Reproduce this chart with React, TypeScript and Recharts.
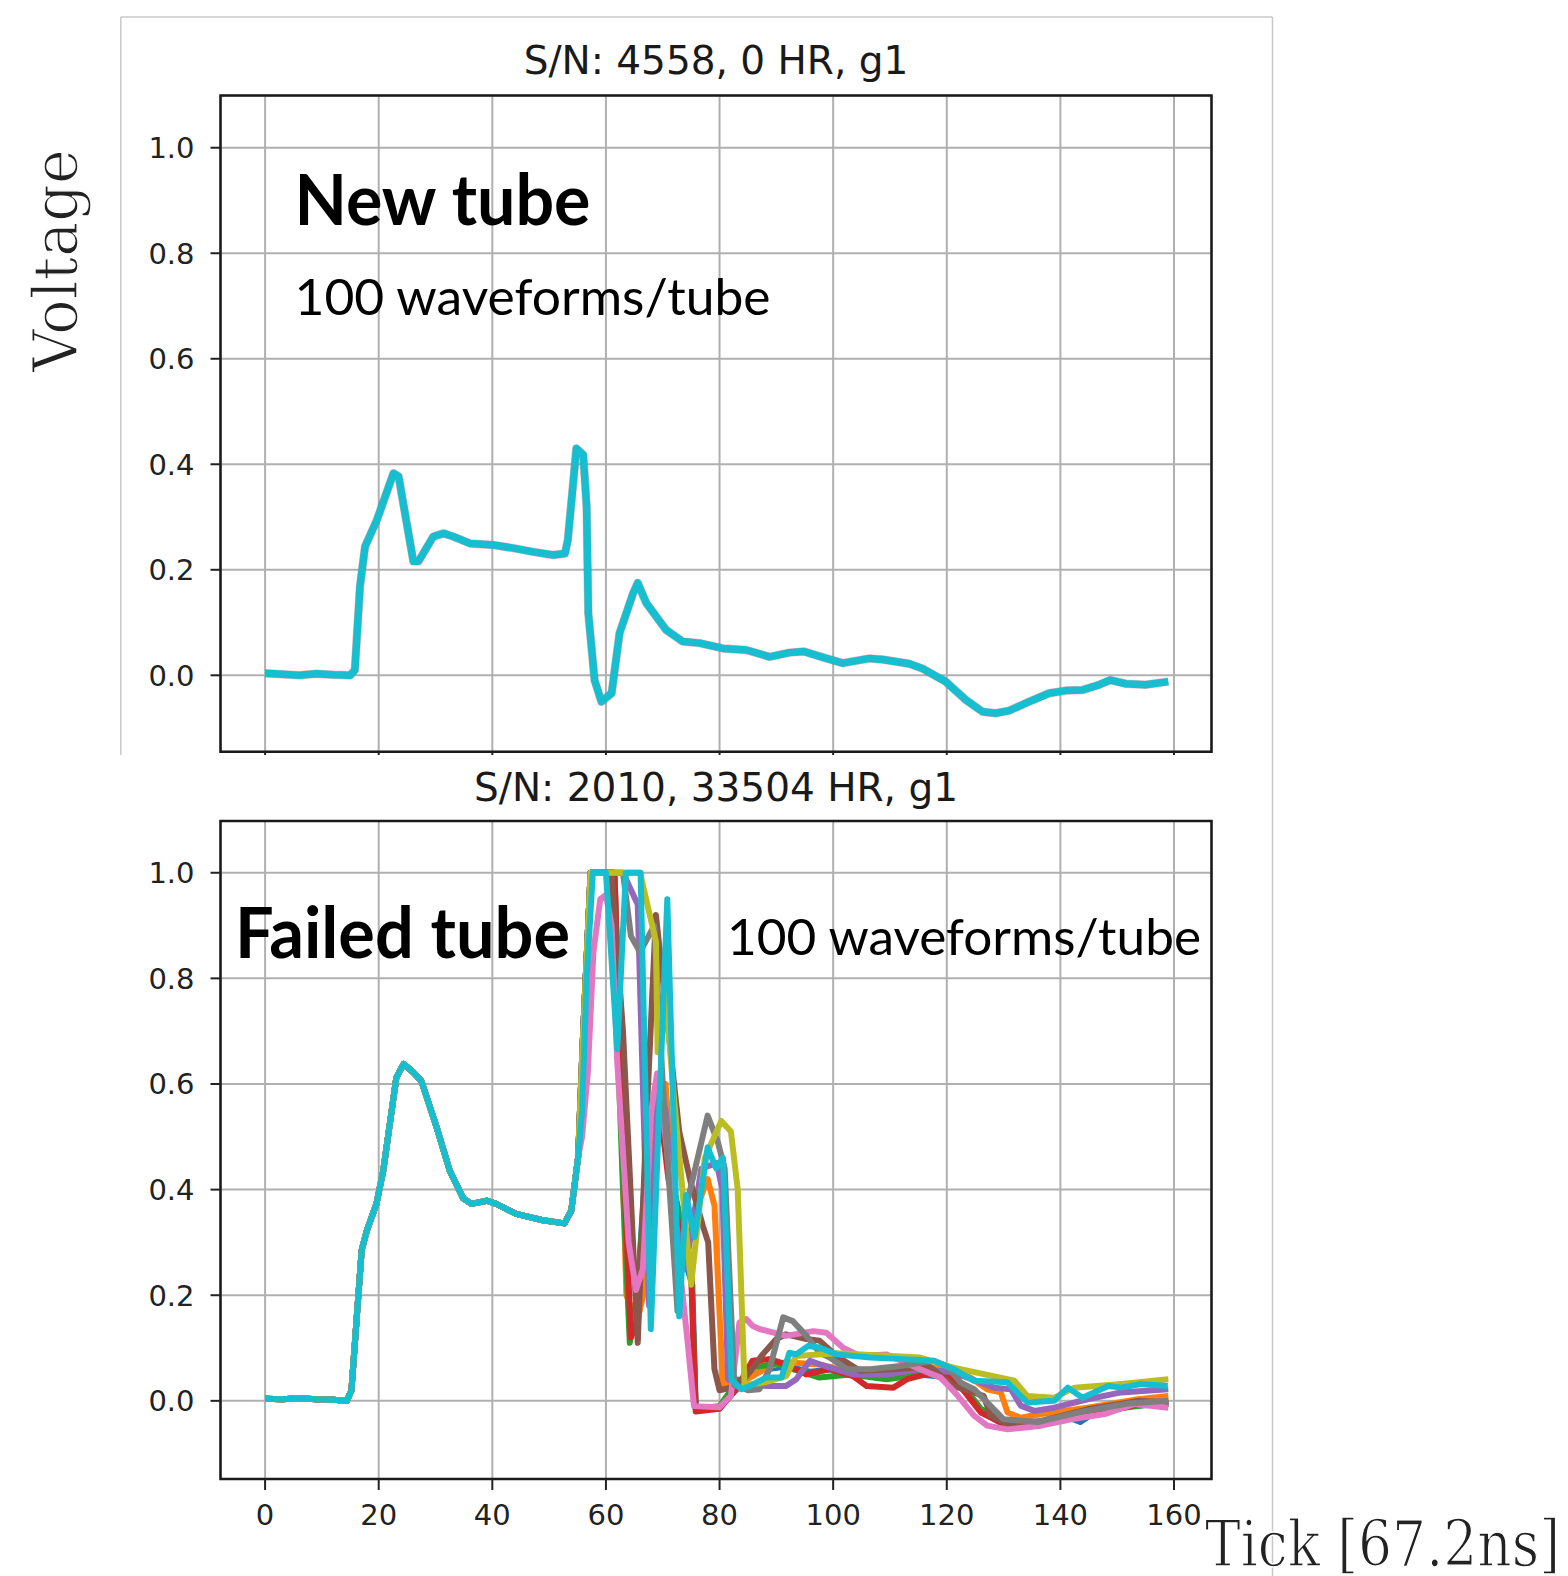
import React from 'react';
import { LineChart, Line, XAxis, YAxis, CartesianGrid, ReferenceArea } from 'recharts';

type Pt = [number, number];

// ---------- axes ----------
const xTicks = [0, 20, 40, 60, 80, 100, 120, 140, 160];
const yTicks = [0, 0.2, 0.4, 0.6, 0.8, 1.0];
const xDomain: [number, number] = [-7.85, 166.6];
const topYDomain: [number, number] = [-0.145, 1.099];
const bottomYDomain: [number, number] = [-0.148, 1.098];

// ---------- top panel: new tube (100 overlapping waveforms) ----------
const newTube: Pt[] = [
  [0, 0.004], [3, 0.002], [6, 0.0], [9, 0.003], [12, 0.001], [15, 0.0], [15.8, 0.01],
  [16.7, 0.168], [17.6, 0.244], [19.7, 0.295], [22.6, 0.383], [23.5, 0.377], [26.1, 0.216],
  [27, 0.216], [29.6, 0.263], [31.4, 0.269], [33.1, 0.263], [36.1, 0.25], [40.2, 0.247],
  [43.7, 0.241], [47.2, 0.234], [50.7, 0.228], [52.8, 0.231], [53.3, 0.257], [54.8, 0.43],
  [56, 0.418], [56.6, 0.32], [56.9, 0.118], [58, -0.009], [59.2, -0.05], [61, -0.034],
  [62.4, 0.08], [64.8, 0.156], [65.6, 0.175], [67.1, 0.137], [70.6, 0.086], [73.5, 0.064],
  [76.5, 0.061], [80.6, 0.051], [84.7, 0.048], [88.8, 0.035], [92.3, 0.043], [94.9, 0.045],
  [98.2, 0.034], [101.7, 0.023], [106.4, 0.032], [108.7, 0.03], [113.4, 0.022], [115.7, 0.013],
  [119.8, -0.012], [123.4, -0.047], [126.3, -0.069], [128.6, -0.072], [131, -0.067],
  [134.5, -0.05], [138, -0.034], [140.9, -0.029], [143.8, -0.028], [146.8, -0.018],
  [148.8, -0.009], [151.5, -0.016], [155, -0.018], [159, -0.012],
];

// ---------- bottom panel: failed tube ----------
const failedCommon: Pt[] = [
  [0, 0.004], [3, 0.003], [6, 0.005], [9, 0.003], [12, 0.002], [14.4, 0.0], [15.2, 0.02],
  [16.1, 0.153], [17, 0.285], [17.9, 0.322], [19.6, 0.373], [20.8, 0.436], [23.1, 0.612],
  [24.4, 0.638], [26.1, 0.622], [27.5, 0.606], [30.2, 0.518], [32.5, 0.436], [34.9, 0.383],
  [36.3, 0.373], [39, 0.379], [40.7, 0.373], [44.2, 0.354], [48.9, 0.342], [52.7, 0.336],
  [53.9, 0.36], [55.1, 0.461],
];

const failedBlue: Pt[] = [
  [56, 0.7], [57.3, 1], [61.5, 1], [63, 0.5], [64.2, 0.13], [65.3, 0.16], [67, 0.45], [69.5, 0.58],
  [71.5, 0.4], [73.5, 0.28], [75.2, 0.22], [75.8, -0.012], [80, -0.012], [82, 0.01], [85, 0.045],
  [88, 0.06], [92, 0.065], [96, 0.055], [100, 0.06], [105, 0.05], [110, 0.045], [115, 0.05],
  [120, 0.045], [123, 0.02], [126, -0.02], [130, -0.045], [136, -0.044], [141, -0.03],
  [143.5, -0.04], [146, -0.022], [152, -0.01], [159, -0.006],
];
const failedOrange: Pt[] = [
  [56, 0.7], [57.3, 1], [61.5, 1], [63.6, 0.2], [65.5, 0.15], [67, 0.22], [69, 0.58], [70.5, 0.6],
  [72.5, 0.3], [74.5, 0.3], [76.5, 0.38], [77.9, 0.42], [79.1, 0.37], [80.6, 0.03], [83, 0.03],
  [85.8, 0.047], [88.8, 0.066], [91.7, 0.073], [97.6, 0.069], [103.5, 0.054], [109.4, 0.06],
  [118.3, 0.063], [124, 0.045], [127.1, 0.022], [129.5, 0.016], [130.7, -0.022], [133, -0.032],
  [136.6, -0.025], [144.8, -0.013], [153.7, 0.003], [159, 0.009],
];
const failedGreen: Pt[] = [
  [56, 0.7], [57.3, 1], [61, 1], [63, 0.4], [64.2, 0.11], [65.5, 0.2], [67.5, 0.5], [69, 0.58],
  [71, 0.45], [73, 0.35], [75, 0.26], [75.8, -0.015], [80, -0.01], [82, 0.02], [83.3, 0.04],
  [84, 0.03], [85.3, 0.063], [90, 0.07], [97.6, 0.044], [103, 0.05], [109.4, 0.041],
  [118.3, 0.054], [122, 0.04], [126, -0.015], [130, -0.04], [137, -0.04], [142, -0.03],
  [150, -0.015], [159, -0.002],
];
const failedRed: Pt[] = [
  [56, 0.7], [57.3, 1], [61.5, 1], [63.5, 0.35], [64.4, 0.12], [65.5, 0.15], [67, 0.42], [69, 0.6],
  [71, 0.42], [73.5, 0.3], [75, 0.24], [75.8, -0.02], [80, -0.015], [82.9, 0.022], [85.8, 0.076],
  [88.8, 0.079], [91.7, 0.069], [95.3, 0.05], [99.4, 0.06], [103.5, 0.047], [105.9, 0.028],
  [110.6, 0.025], [113, 0.041], [117.7, 0.054], [121.2, 0.044], [126, -0.022], [130.1, -0.044],
  [136, -0.041], [141.9, -0.028], [147.8, -0.022], [153.7, -0.006], [159, -0.006],
];
const failedPurple: Pt[] = [
  [56, 0.7], [57.3, 1], [63, 1], [65.6, 0.94], [67.6, 0.18], [69.1, 0.6], [70.5, 0.55], [72, 0.35],
  [74, 0.25], [76.8, 0.44], [79.5, 0.45], [80.5, 0.4], [81.5, 0.04], [85, 0.03], [88.8, 0.028],
  [91.7, 0.028], [93.5, 0.041], [95.9, 0.076], [97.6, 0.069], [103.5, 0.05], [109.4, 0.05],
  [115.3, 0.06], [121.2, 0.054], [128.3, 0.025], [131.3, 0.022], [133, -0.009], [135.4, -0.019],
  [138.9, -0.013], [144.8, 0.003], [150.7, 0.016], [159, 0.022],
];
const failedBrown: Pt[] = [
  [56, 0.7], [57.3, 1], [61, 1], [63, 0.7], [65.6, 0.11], [67, 0.5], [68.8, 0.92], [70, 0.8],
  [72.9, 0.51], [75, 0.41], [77.1, 0.33], [78, 0.3], [79.1, 0.06], [80, 0.02], [82, 0.025],
  [85, 0.05], [87.6, 0.088], [90, 0.117], [91.7, 0.126], [95.3, 0.117], [97.6, 0.114],
  [100.6, 0.085], [104.7, 0.057], [110.6, 0.06], [117, 0.065], [121.2, 0.028], [124.8, 0.016],
  [126.5, 0.009], [127.7, -0.028], [130.7, -0.044], [136.6, -0.038], [144.8, -0.016],
  [153.7, 0.0], [159, -0.003],
];
const failedPink: Pt[] = [
  [55.8, 0.5], [56.8, 0.62], [57.8, 0.85], [59, 0.95], [60, 0.958], [61, 0.9], [62, 0.64], [64, 0.3],
  [65.3, 0.21], [66.5, 0.25], [68, 0.55], [69, 0.62], [70.5, 0.5], [72.5, 0.3], [74.3, 0.12],
  [75.5, -0.01], [80, -0.012], [82, 0.01], [83.5, 0.148], [84.7, 0.155], [85.8, 0.142], [87, 0.136],
  [91.7, 0.123], [96.5, 0.132], [98.8, 0.129], [101.8, 0.1], [104.7, 0.085], [109.4, 0.088],
  [115.3, 0.06], [118.9, 0.044], [121.5, 0.015], [124.8, -0.028], [127.1, -0.047], [130.7, -0.054],
  [136.6, -0.047], [141.9, -0.035], [147.8, -0.025], [153.1, -0.006], [159, -0.013],
];
const failedGray: Pt[] = [
  [56, 0.7], [57.3, 1], [63, 1], [64.4, 0.88], [66, 0.85], [68.5, 0.9], [70, 0.6], [72.6, 0.17],
  [74.4, 0.38], [77.9, 0.54], [79.7, 0.49], [80.9, 0.44], [82.6, 0.03], [85, 0.02], [87, 0.022],
  [88.8, 0.06], [91.2, 0.158], [92.9, 0.151], [95.3, 0.123], [97.6, 0.091], [99.4, 0.082],
  [102.4, 0.06], [106.5, 0.06], [111.8, 0.066], [117.7, 0.076], [120, 0.066], [122.4, 0.035],
  [124.8, 0.022], [127.1, -0.003], [130, -0.035], [136, -0.04], [144, -0.02], [152, -0.005],
  [159, 0.0],
];
const failedOlive: Pt[] = [
  [56, 0.7], [57.3, 1], [66, 1], [67.5, 0.93], [68.8, 0.87], [69.1, 0.66], [70.5, 0.77], [72, 0.57],
  [75, 0.22], [77.4, 0.46], [80.3, 0.53], [82, 0.51], [83.2, 0.4], [84.4, 0.03], [88, 0.035],
  [91.7, 0.047], [93.5, 0.085], [100.6, 0.09], [115.3, 0.082], [121.2, 0.063], [131.9, 0.038],
  [134.2, 0.009], [138.9, 0.006], [142.5, 0.025], [150.7, 0.032], [159, 0.041],
];
const failedCyan: Pt[] = [
  [55.8, 0.55], [56.6, 0.8], [57.7, 1], [60, 1], [62, 0.666], [63.5, 1], [66.1, 1], [67.9, 0.136],
  [70.8, 0.95], [72.9, 0.16], [74.1, 0.39], [75.6, 0.31], [77.9, 0.48], [79.4, 0.44], [80.6, 0.46],
  [82.1, 0.04], [83.8, 0.022], [85.3, 0.028], [88.2, 0.044], [90.9, 0.044], [92.3, 0.091],
  [93.5, 0.088], [95.6, 0.104], [97.6, 0.101], [100.6, 0.088], [106.5, 0.082], [112.4, 0.079],
  [117.7, 0.076], [121.2, 0.06], [124.8, 0.038], [130.7, 0.035], [133, 0.0095], [134.2, -0.003],
  [138.9, 0.0], [141.3, 0.025], [143.9, 0.006], [148.4, 0.028], [150.7, 0.025], [154.2, 0.032],
  [158.9, 0.028],
];

const seriesColors = ['#1f77b4', '#ff7f0e', '#2ca02c', '#d62728', '#9467bd', '#8c564b', '#e377c2', '#7f7f7f', '#bcbd22', '#17becf'];
const failedTails: Pt[][] = [failedBlue, failedOrange, failedGreen, failedRed, failedPurple, failedBrown, failedPink, failedGray, failedOlive, failedCyan];

const toRows = (pts: Pt[]) => pts.map(([x, y]) => ({ x, y }));

type Series = { color: string; width: number; opacity: number; data: { x: number; y: number }[] };

const topSeries: Series[] = [
  { color: '#d62728', width: 8.5, opacity: 0.3, data: toRows(newTube) },
  { color: '#17becf', width: 7.5, opacity: 1, data: toRows(newTube) },
];
const bottomSeries: Series[] = failedTails.map((tail, i) => ({
  color: seriesColors[i],
  width: 6,
  opacity: 1,
  data: toRows([...failedCommon, ...tail]),
}));

const tickFont = { fontFamily: 'DejaVu Sans', fontSize: 29, fill: '#222' };

function Panel(props: {
  series: Series[];
  yDomain: [number, number];
  showXLabels: boolean;
  height: number;
  margin: { top: number; right: number; bottom: number; left: number };
}) {
  const { series, yDomain, showXLabels, height, margin } = props;
  return (
    <LineChart width={1568} height={height} margin={margin}>
      <CartesianGrid stroke="#b0b0b0" strokeWidth={2} />
      <XAxis
        type="number"
        dataKey="x"
        domain={xDomain}
        ticks={xTicks}
        interval={0}
        allowDataOverflow
        axisLine={false}
        tickLine={{ stroke: '#222', strokeWidth: 2 }}
        tickSize={11}
        tickMargin={14}
        height={60}
        tick={tickFont}
        tickFormatter={(v: number) => (showXLabels ? String(v) : '')}
      />
      <YAxis
        type="number"
        domain={yDomain}
        ticks={yTicks}
        interval={0}
        allowDataOverflow
        axisLine={false}
        tickLine={{ stroke: '#222', strokeWidth: 2 }}
        tickSize={10}
        tickMargin={16}
        width={80}
        tick={tickFont}
        tickFormatter={(v: number) => v.toFixed(1)}
      />
      {series.map((s, i) => (
        <Line
          key={i}
          data={s.data}
          dataKey="y"
          type="linear"
          stroke={s.color}
          strokeWidth={s.width}
          strokeOpacity={s.opacity}
          strokeLinejoin="round"
          dot={false}
          activeDot={false}
          isAnimationActive={false}
        />
      ))}
      <ReferenceArea
        x1={xDomain[0]}
        x2={xDomain[1]}
        y1={yDomain[0]}
        y2={yDomain[1]}
        fill="none"
        fillOpacity={0}
        stroke="#1a1a1a"
        strokeWidth={2.5}
        strokeOpacity={1}
        ifOverflow="visible"
      />
    </LineChart>
  );
}

export default function App() {
  const plotLeft = 220.5;
  const plotRight = 1211.5;
  const calibri = 'Lato, "Open Sans", sans-serif';
  return (
    <div style={{ position: 'absolute', left: 0, top: 0, width: 1568, height: 1576, background: '#fff', overflow: 'hidden' }}>
      <div style={{ position: 'absolute', left: 0, top: 0 }}>
        <Panel
          series={topSeries}
          yDomain={topYDomain}
          showXLabels={false}
          height={830}
          margin={{ top: 95.5, right: 1568 - plotRight, bottom: 830 - 751.8 - 60, left: plotLeft - 80 }}
        />
      </div>
      <div style={{ position: 'absolute', left: 0, top: 755, width: 1568, height: 821, background: '#fff' }}>
        <Panel
          series={bottomSeries}
          yDomain={bottomYDomain}
          showXLabels={true}
          height={821}
          margin={{ top: 66, right: 1568 - plotRight, bottom: 821 - 724 - 60, left: plotLeft - 80 }}
        />
      </div>
      <svg
        width={1568}
        height={1576}
        style={{ position: 'absolute', left: 0, top: 0, pointerEvents: 'none' }}
      >
        {/* screenshot borders */}
        <line x1={120.8} y1={17} x2={1272.5} y2={17} stroke="#c8c8c8" strokeWidth={1.5} />
        <line x1={120.8} y1={17} x2={120.8} y2={755} stroke="#c8c8c8" strokeWidth={1.5} />
        <line x1={1272.5} y1={17} x2={1272.5} y2={1576} stroke="#c8c8c8" strokeWidth={1.5} />

        {/* panel titles */}
        <text x={716} y={74} textAnchor="middle" fontFamily="DejaVu Sans" fontSize={39} fill="#1a1a1a">
          S/N: 4558, 0 HR, g1
        </text>
        <text x={716} y={801} textAnchor="middle" fontFamily="DejaVu Sans" fontSize={39} fill="#1a1a1a">
          S/N: 2010, 33504 HR, g1
        </text>

        {/* annotations */}
        <text x={294.5} y={225} fontFamily={calibri} fontWeight={700} fontSize={70} fill="#000" textLength={296} lengthAdjust="spacingAndGlyphs">
          New tube
        </text>
        <text x={294.5} y={314.6} fontFamily={calibri} fontSize={50} fill="#000" textLength={476} lengthAdjust="spacingAndGlyphs">
          100 waveforms/tube
        </text>
        <text x={235} y={958} fontFamily={calibri} fontWeight={700} fontSize={70} fill="#000" textLength={335} lengthAdjust="spacingAndGlyphs">
          Failed tube
        </text>
        <text x={727} y={955} fontFamily={calibri} fontSize={50} fill="#000" textLength={474} lengthAdjust="spacingAndGlyphs">
          100 waveforms/tube
        </text>

        {/* axis titles */}
        <text
          transform="translate(77.3,372) rotate(-90)"
          fontFamily="DejaVu Serif"
          fontSize={62}
          fill="#222"
          stroke="#fff"
          strokeWidth={1.4}
          textLength={223}
          lengthAdjust="spacingAndGlyphs"
        >
          Voltage
        </text>
        <text
          x={1205}
          y={1566}
          fontFamily="DejaVu Serif"
          fontSize={64}
          fill="#222"
          stroke="#fff"
          strokeWidth={1.4}
          textLength={355}
          lengthAdjust="spacingAndGlyphs"
        >
          Tick [67.2ns]
        </text>
      </svg>
    </div>
  );
}
